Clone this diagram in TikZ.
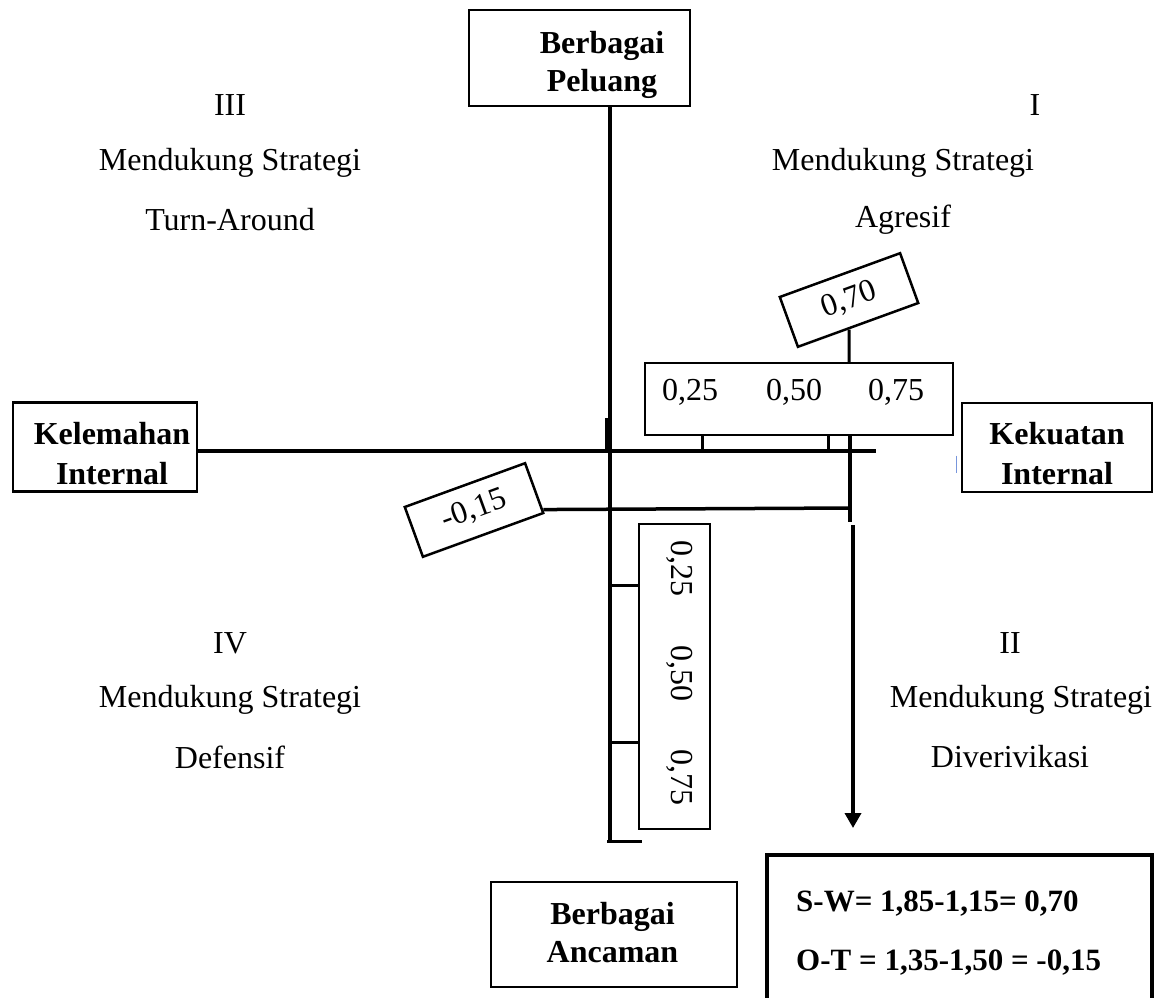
\documentclass[tikz,border=0pt]{standalone}
\usepackage{fontspec}
\setmainfont{Liberation Serif}
\usetikzlibrary{arrows.meta}
\definecolor{faintblue}{RGB}{120,150,220}
\begin{document}
\begin{tikzpicture}[x=1pt,y=-1pt,
  txt/.style={font=\fontsize{32}{36}\selectfont, inner sep=0pt},
  btxt/.style={font=\fontsize{32}{38}\selectfont\bfseries, align=center, inner sep=0pt},
  bigbox/.style={draw, line width=2.5pt, inner sep=0pt},
  thinbox/.style={draw, line width=1.5pt, inner sep=0pt},
  rotbox/.style={draw, line width=2.5pt, fill=white, inner sep=0pt, minimum width=128pt, minimum height=53pt, font=\fontsize{32}{36}\selectfont},
  axis/.style={line width=3.5pt},
  tickline/.style={line width=3pt}]
\useasboundingbox (0,0) rectangle (1158,997);

% main boxes
\node[bigbox, minimum width=221pt, minimum height=96pt] (peluang) at (579.5,58) {};
\node[btxt] (peluangtext) at (602,65) {Berbagai\\Peluang};
\node[bigbox, minimum width=184pt, minimum height=89pt] (kelemahan) at (105,447) {};
\node[btxt, font=\fontsize{32}{40}\selectfont\bfseries] (kelemahantext) at (112,454) {Kelemahan\\Internal};
\node[bigbox, minimum width=190pt, minimum height=89pt] (kekuatan) at (1057,447.5) {};
\node[btxt, font=\fontsize{32}{40}\selectfont\bfseries] (kekuatantext) at (1057,454) {Kekuatan\\Internal};
\node[bigbox, minimum width=246pt, minimum height=105pt] (ancaman) at (614,934.5) {};
\node[btxt] (ancamantext) at (612.5,933) {Berbagai\\Ancaman};
\draw[faintblue, line width=1pt] (kekuatan.west) ++(-4,8) coordinate (fb1) -- ++(0,17) coordinate (fb2);

% result box (open at bottom)
\node[minimum width=385pt, minimum height=144pt, inner sep=0pt] (swbox) at (959.5,927) {};
\draw[line width=3.5pt] (swbox.south west) -- (swbox.north west) -- (swbox.north east) -- (swbox.south east);
\node[font=\fontsize{31}{59}\selectfont\bfseries, align=left, anchor=west, inner sep=0pt] (swtext) at (796,933) {S-W= 1,85-1,15= 0,70\\O-T = 1,35-1,50 = -0,15};

% quadrant labels
\node[txt] (q3) at (230,105) {III};
\node[txt] (q3a) at (230,163) {Mendukung Strategi};
\node[txt] (q3b) at (230,220) {Turn-Around};
\node[txt] (q1) at (1035,105) {I};
\node[txt] (q1a) at (903,163) {Mendukung Strategi};
\node[txt] (q1b) at (903,220) {Agresif};
\node[txt] (q4) at (230,643) {IV};
\node[txt] (q4a) at (230,700) {Mendukung Strategi};
\node[txt] (q4b) at (230,757) {Defensif};
\node[txt] (q2) at (1010,643) {II};
\node[txt] (q2a) at (1021,700) {Mendukung Strategi};
\node[txt] (q2b) at (1010,757) {Diverivikasi};

% axis coordinates
\coordinate (vtop) at (610,106);
\coordinate (vbot) at (610,840);
\coordinate (hend) at (876,451);

% main axes
\draw[axis] (vtop) -- (vbot);
\draw[axis] (kelemahan.east |- hend) -- (hend);
\draw[line width=5pt] (607,418) -- (607,452);
\draw[tickline] (vbot) ++(-3,1) coordinate (bb1) -- ++(35,0) coordinate (bb2);

% horizontal scale box
\node[thinbox, minimum width=308pt, minimum height=72pt] (hscale) at (799,399) {};
\node[txt] (h25) at (690,392) {0,25};
\node[txt] (h50) at (794,392) {0,50};
\node[txt] (h75) at (896,392) {0,75};
\draw[tickline] (hscale.south -| 702,0) -- (hend -| 702,0);
\draw[tickline] (hscale.south -| 828,0) -- (hend -| 828,0);

% 0,70 marker
\node[rotbox, rotate=20] (b070) at (849,300) {0,70};
\draw[tickline] (b070) -- (b070 |- hscale.north);

% vertical scale box
\node[thinbox, minimum width=71pt, minimum height=305pt] (vscale) at (674.5,676.5) {};
\node[txt, rotate=-90] (v25) at (680,568) {0,25};
\node[txt, rotate=-90] (v50) at (680,673) {0,50};
\node[txt, rotate=-90] (v75) at (680,777) {0,75};
\draw[tickline] (vtop |- 0,585) -- (vscale.west |- 0,585);
\draw[tickline] (vtop |- 0,742) -- (vscale.west |- 0,742);

% -0,15 marker
\node[rotbox, rotate=20] (b015) at (474,510) {-0,15};
\coordinate (m15end) at (851,508);
\draw[axis] (b015) -- (m15end);

% vertical line from 0,70 down with arrow
\draw[axis] (hscale.south -| 850,0) -- (850,522);
\coordinate (arrtop) at (853,525);
\coordinate (arrend) at (853,828);
\draw[axis, -{Triangle[length=15pt,width=16pt]}] (arrtop) -- (arrend);
\end{tikzpicture}
\end{document}
